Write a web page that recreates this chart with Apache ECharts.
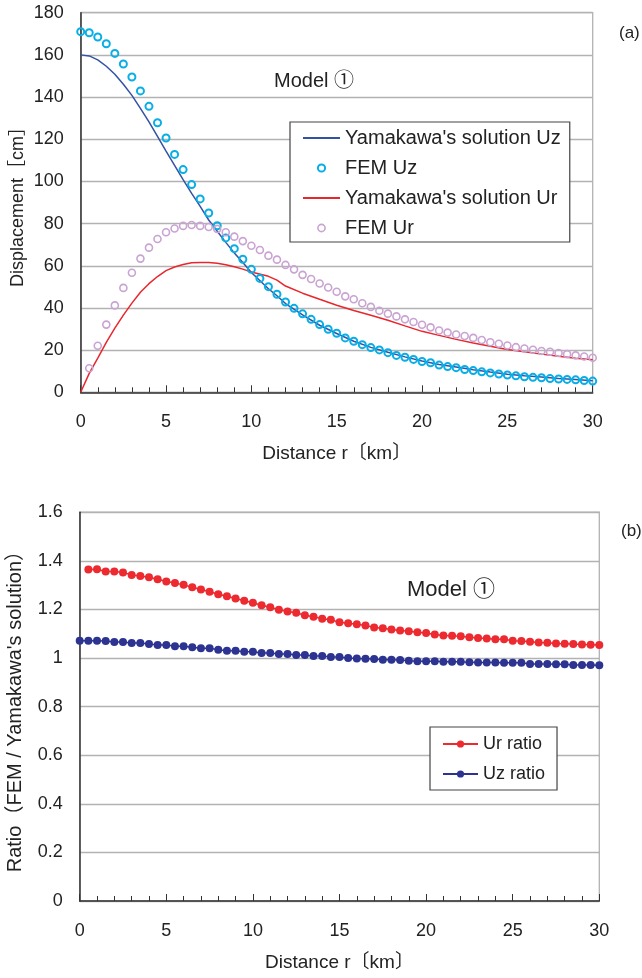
<!DOCTYPE html>
<html>
<head>
<meta charset="utf-8">
<title>Model 1 displacement comparison</title>
<script src="https://cdn.jsdelivr.net/npm/echarts@6/dist/echarts.min.js"></script>
<style>
  html, body { margin: 0; padding: 0; background: #fff; }
  #chart { width: 642px; height: 978px; }
</style>
</head>
<body>
<div id="chart"></div>
<script>
// Distance from the source [km], FEM output every 0.5 km
const rStep = [0, 0.5, 1, 1.5, 2, 2.5, 3, 3.5, 4, 4.5, 5, 5.5, 6, 6.5, 7, 7.5, 8, 8.5, 9, 9.5,
  10, 10.5, 11, 11.5, 12, 12.5, 13, 13.5, 14, 14.5, 15, 15.5, 16, 16.5, 17, 17.5, 18, 18.5, 19, 19.5,
  20, 20.5, 21, 21.5, 22, 22.5, 23, 23.5, 24, 24.5, 25, 25.5, 26, 26.5, 27, 27.5, 28, 28.5, 29, 29.5, 30];

// FEM vertical displacement Uz [cm]
const femUz = [171.0, 170.5, 168.5, 165.3, 160.7, 155.7, 149.5, 142.9, 135.6, 127.8,
  120.6, 112.8, 105.6, 98.5, 91.7, 85.0, 79.0, 73.2, 68.1, 63.1,
  58.3, 54.0, 50.1, 46.5, 42.8, 39.8, 37.2, 34.6, 32.1, 29.9,
  28.0, 25.8, 24.2, 22.6, 21.2, 20.1, 18.8, 17.5, 16.6, 15.6,
  14.6, 14.0, 12.9, 12.2, 11.7, 10.8, 10.3, 9.7, 9.2, 8.7,
  8.2, 7.8, 7.4, 7.1, 6.9, 6.5, 6.3, 6.1, 5.9, 5.6, 5.3];

// FEM radial displacement Ur [cm] (no value on the axis itself)
const femUr = [null, 11.4, 22.1, 32.1, 41.2, 49.5, 56.7, 63.4, 68.6, 72.7,
  75.9, 77.7, 78.9, 79.3, 78.9, 78.4, 77.4, 75.9, 73.8, 71.7,
  69.5, 67.5, 64.8, 62.9, 60.4, 58.3, 55.7, 53.7, 51.6, 49.7,
  47.7, 45.5, 44.1, 42.2, 40.5, 38.7, 37.3, 36.0, 34.6, 33.3,
  32.0, 30.8, 29.3, 28.3, 27.4, 26.7, 25.8, 24.8, 23.7, 23.0,
  22.2, 21.4, 20.8, 20.2, 19.6, 19.2, 18.6, 18.1, 17.5, 17.0, 16.4];

// Analytical (Yamakawa) solution sampled along r
const rLine = [0, 0.5, 1, 1.5, 2, 2.5, 3, 3.5, 4, 4.5, 5, 5.5, 6, 6.5, 7, 7.5, 8, 8.5, 9, 9.5,
  10, 11, 11.5, 12, 13, 14, 15, 16, 17, 18, 19, 20, 21, 22, 23, 24, 25, 26, 27, 28, 29, 30];
const yamaUz = [160.0, 159.5, 157.6, 154.6, 150.8, 146.1, 140.8, 134.6, 128.2, 121.3,
  114.4, 107.6, 100.8, 94.3, 88.2, 81.7, 76.4, 71.1, 66.1, 61.5,
  56.8, 49.1, 45.8, 42.1, 36.7, 31.8, 27.9, 24.2, 21.3, 19.0,
  16.8, 14.8, 13.2, 12.0, 10.7, 9.6, 8.6, 7.8, 7.2, 6.6, 6.1, 5.5];
const yamaUr = [0.0, 9.0, 16.2, 23.7, 30.4, 36.6, 42.3, 47.4, 51.5, 54.9,
  57.7, 59.4, 60.6, 61.4, 61.5, 61.5, 61.2, 60.5, 59.5, 58.4,
  57.0, 55.0, 53.2, 50.4, 47.0, 44.1, 41.3, 38.8, 36.5, 34.2,
  31.5, 28.9, 27.0, 25.1, 23.4, 21.8, 20.3, 19.2, 18.1, 17.1, 16.2, 15.4];

// Ratio FEM / Yamakawa's solution
const urRatio = [null, 1.364, 1.365, 1.356, 1.356, 1.352, 1.342, 1.337, 1.332, 1.324,
  1.315, 1.309, 1.301, 1.291, 1.282, 1.273, 1.262, 1.254, 1.245, 1.236,
  1.227, 1.217, 1.209, 1.199, 1.191, 1.186, 1.176, 1.170, 1.162, 1.157,
  1.147, 1.143, 1.139, 1.134, 1.126, 1.122, 1.117, 1.113, 1.110, 1.106,
  1.103, 1.097, 1.093, 1.092, 1.089, 1.085, 1.082, 1.080, 1.077, 1.077,
  1.071, 1.070, 1.067, 1.064, 1.063, 1.060, 1.059, 1.058, 1.056, 1.055, 1.054];
const uzRatio = [1.071, 1.071, 1.071, 1.070, 1.066, 1.066, 1.062, 1.062, 1.058, 1.054,
  1.054, 1.048, 1.048, 1.044, 1.040, 1.040, 1.034, 1.030, 1.030, 1.026,
  1.026, 1.021, 1.021, 1.016, 1.016, 1.012, 1.012, 1.008, 1.008, 1.004,
  1.004, 1.000, 0.998, 0.997, 0.996, 0.993, 0.993, 0.992, 0.989, 0.987,
  0.987, 0.987, 0.985, 0.985, 0.985, 0.982, 0.981, 0.981, 0.981, 0.980,
  0.980, 0.980, 0.975, 0.975, 0.975, 0.974, 0.974, 0.971, 0.971, 0.971, 0.970];

const seriesNames = ["Yamakawa's solution Uz", 'FEM Uz', "Yamakawa's solution Ur", 'FEM Ur'];
const ratioNames = ['Ur ratio', 'Uz ratio'];

const COLORS = {
  uzLine: '#3252a4',
  uzFem: '#08aee6',
  urLine: '#e8262c',
  urFem: '#c9a3d2',
  urRatio: '#ec2a2f',
  uzRatio: '#2c3391'
};

const NUM_FONT = "'Liberation Sans', sans-serif";
const TXT_FONT = "'Liberation Sans', 'Noto Sans CJK JP', sans-serif";
const INK = '#222';
const GRID_GRAY = '#b2b2b2';

function pairs(xs, ys) {
  return xs.map((x, i) => [x, ys[i]]).filter(p => p[1] != null);
}

function xAxisFor(gridIndex) {
  return {
    type: 'value', gridIndex: gridIndex, min: 0, max: 30, interval: 5,
    axisLine: { show: true, onZero: false, lineStyle: { color: '#333', width: 1.5 } },
    axisTick: { show: true, inside: true, length: 7, lineStyle: { color: '#333', width: 1 } },
    minorTick: { show: true, splitNumber: 5, length: 5, lineStyle: { color: '#333', width: 1 } },
    splitLine: { show: false },
    axisLabel: { margin: 21, fontSize: 18, fontFamily: NUM_FONT, color: INK },
    name: 'Distance r〔km〕', nameLocation: 'middle', nameGap: 52, nameMoveOverlap: false,
    nameTextStyle: { fontSize: 19, fontFamily: TXT_FONT, color: INK }
  };
}

function yAxisFor(gridIndex, max, interval, name, nameSize) {
  return {
    type: 'value', gridIndex: gridIndex, min: 0, max: max, interval: interval,
    axisLine: { show: true, lineStyle: { color: '#333', width: 1.5 } },
    axisTick: { show: false },
    splitLine: { show: true, lineStyle: { color: GRID_GRAY, width: 1.3 } },
    axisLabel: { margin: 17, fontSize: 18, fontFamily: NUM_FONT, color: INK },
    name: name, nameLocation: 'middle', nameGap: 54, nameRotate: 90, nameMoveOverlap: false,
    nameTextStyle: { fontSize: nameSize, fontFamily: TXT_FONT, color: INK }
  };
}

const hollow = (color, w) => ({ color: 'rgba(255,255,255,0)', borderColor: color, borderWidth: w });

const gridBase = {
  show: true, borderColor: GRID_GRAY, borderWidth: 1.3, backgroundColor: 'transparent',
  containLabel: false, outerBoundsMode: 'none'
};

const option = {
  animation: false,
  backgroundColor: '#fff',
  grid: [
    Object.assign({ left: 80.7, top: 12.7, width: 512, height: 379.6 }, gridBase),
    Object.assign({ left: 79.7, top: 512.2, width: 519.6, height: 388.8 }, gridBase)
  ],
  xAxis: [xAxisFor(0), xAxisFor(1)],
  yAxis: [
    yAxisFor(0, 180, 20, 'Displacement［cm］', 18),
    yAxisFor(1, 1.6, 0.2, "Ratio（FEM / Yamakawa's solution）", 20)
  ],
  legend: [
    {
      orient: 'vertical', left: 290, top: 122, padding: [6, 9, 4, 12],
      itemGap: 10, itemWidth: 37, itemHeight: 9, selectedMode: false,
      borderColor: '#444', borderWidth: 1.2, backgroundColor: '#fff',
      textStyle: { fontSize: 20, fontFamily: TXT_FONT, color: INK },
      data: [
        { name: seriesNames[0], itemStyle: { opacity: 0 } },
        { name: seriesNames[1], itemStyle: hollow(COLORS.uzFem, 2), lineStyle: { opacity: 0 } },
        { name: seriesNames[2], itemStyle: { opacity: 0 } },
        { name: seriesNames[3], itemStyle: hollow(COLORS.urFem, 1.6), lineStyle: { opacity: 0 } }
      ]
    },
    {
      orient: 'vertical', left: 430, top: 727, padding: [8, 12, 7, 12],
      itemGap: 12, itemWidth: 35, itemHeight: 9, selectedMode: false,
      borderColor: '#444', borderWidth: 1.2, backgroundColor: '#fff',
      textStyle: { fontSize: 18, fontFamily: TXT_FONT, color: INK },
      data: ratioNames
    }
  ],
  graphic: [
    { type: 'text', left: 274, top: 71, style: { text: 'Model ①', font: "20px 'Liberation Sans', 'Noto Sans CJK JP', sans-serif", fill: INK } },
    { type: 'text', left: 407, top: 579, style: { text: 'Model ①', font: "22px 'Liberation Sans', 'Noto Sans CJK JP', sans-serif", fill: INK } },
    { type: 'text', left: 619, top: 25, style: { text: '(a)', font: "17px 'Liberation Sans', sans-serif", fill: INK } },
    { type: 'text', left: 621, top: 523, style: { text: '(b)', font: "17px 'Liberation Sans', sans-serif", fill: INK } }
  ],
  series: [
    {
      name: seriesNames[0], type: 'line', xAxisIndex: 0, yAxisIndex: 0,
      data: pairs(rLine, yamaUz), symbol: 'none', z: 3,
      itemStyle: { color: COLORS.uzLine },
      lineStyle: { color: COLORS.uzLine, width: 1.5 }
    },
    {
      name: seriesNames[1], type: 'line', xAxisIndex: 0, yAxisIndex: 0,
      data: pairs(rStep, femUz), symbol: 'circle', symbolSize: 7, showSymbol: true, z: 4,
      itemStyle: hollow(COLORS.uzFem, 2),
      lineStyle: { width: 0, opacity: 0 }
    },
    {
      name: seriesNames[2], type: 'line', xAxisIndex: 0, yAxisIndex: 0,
      data: pairs(rLine, yamaUr), symbol: 'none', z: 3,
      itemStyle: { color: COLORS.urLine },
      lineStyle: { color: COLORS.urLine, width: 1.5 }
    },
    {
      name: seriesNames[3], type: 'line', xAxisIndex: 0, yAxisIndex: 0,
      data: pairs(rStep, femUr), symbol: 'circle', symbolSize: 7, showSymbol: true, z: 4,
      itemStyle: hollow(COLORS.urFem, 1.6),
      lineStyle: { width: 0, opacity: 0 }
    },
    {
      name: ratioNames[0], type: 'line', xAxisIndex: 1, yAxisIndex: 1,
      data: pairs(rStep, urRatio), symbol: 'circle', symbolSize: 8, showSymbol: true,
      itemStyle: { color: COLORS.urRatio },
      lineStyle: { color: COLORS.urRatio, width: 1.5 }
    },
    {
      name: ratioNames[1], type: 'line', xAxisIndex: 1, yAxisIndex: 1,
      data: pairs(rStep, uzRatio), symbol: 'circle', symbolSize: 8, showSymbol: true,
      itemStyle: { color: COLORS.uzRatio },
      lineStyle: { color: COLORS.uzRatio, width: 1.5 }
    }
  ]
};

const chart = echarts.init(document.getElementById('chart'), null, { renderer: 'canvas' });
chart.setOption(option);
</script>
</body>
</html>
